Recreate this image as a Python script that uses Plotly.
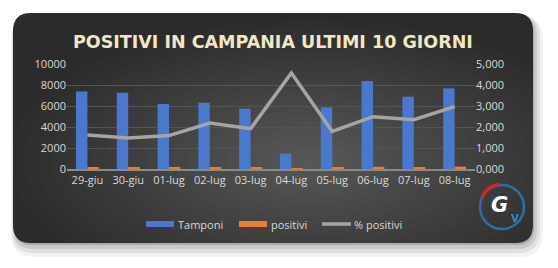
import plotly.graph_objects as go

giorni = ["29-giu", "30-giu", "01-lug", "02-lug", "03-lug", "04-lug", "05-lug", "06-lug", "07-lug", "08-lug"]
tamponi = [7390, 7270, 6190, 6310, 5740, 1460, 5870, 8380, 6890, 7680]
positivi = [120, 107, 98, 138, 110, 67, 105, 209, 162, 228]
pct_positivi = [1.62, 1.48, 1.59, 2.19, 1.92, 4.57, 1.79, 2.49, 2.35, 2.97]

left_ticks = [0, 2000, 4000, 6000, 8000, 10000]
right_ticks = [0, 1, 2, 3, 4, 5]

series_names = ["Tamponi", "positivi", "% positivi"]
series_colors = ["#4a78cc", "#ed7d31", "#a5a5a5"]

W, H = 558, 268
ML, MR, MT, MB = 67, 83, 64, 99
PW, PH = W - ML - MR, H - MT - MB


def px(x):
    return (x - ML) / PW


def py(y):
    return (H - MB - y) / PH


def rrect(x0, y0, x1, y1, r):
    pts = [
        ("M", px(x0 + r), py(y0)),
        ("L", px(x1 - r), py(y0)),
        ("Q", px(x1), py(y0), px(x1), py(y0 + r)),
        ("L", px(x1), py(y1 - r)),
        ("Q", px(x1), py(y1), px(x1 - r), py(y1)),
        ("L", px(x0 + r), py(y1)),
        ("Q", px(x0), py(y1), px(x0), py(y1 - r)),
        ("L", px(x0), py(y0 + r)),
        ("Q", px(x0), py(y0), px(x0 + r), py(y0)),
    ]
    s = ""
    for p in pts:
        s += p[0] + " " + " ".join(f"{v:.5f}" for v in p[1:]) + " "
    return s + "Z"


shapes = []
# shadow
for dx, dy, g, a in [(4, 8, 6, 0.05), (3, 6, 4, 0.07), (2, 4, 2, 0.10), (1, 2, 0, 0.16)]:
    shapes.append(dict(type="path", xref="paper", yref="paper", layer="below",
                       path=rrect(13 - g + dx, 13 - g + dy, 533 + g + dx, 243 + g + dy, 18 + g),
                       fillcolor=f"rgba(0,0,0,{a})", line=dict(width=0)))
# panel
shapes.append(dict(type="path", xref="paper", yref="paper", layer="below",
                   path=rrect(13, 13, 533, 243, 18), fillcolor="#2b2b2b", line=dict(width=0)))
# soft radial lightening
N = 22
for k in range(N):
    cx, cy = 310, 160
    f = 1 - k / N
    hw, hh = 300 * f, 140 * f
    shapes.append(dict(type="circle", xref="paper", yref="paper", layer="below",
                       x0=px(cx - hw), x1=px(cx + hw), y0=py(cy + hh), y1=py(cy - hh),
                       fillcolor="rgba(255,255,255,0.011)", line=dict(width=0)))

# logo
shapes.append(dict(type="circle", xref="paper", yref="paper", layer="above",
                   x0=px(480), x1=px(524), y0=py(185), y1=py(229),
                   line=dict(color="#2f6ea5", width=2.5)))
shapes.append(dict(type="path", xref="paper", yref="paper", layer="above",
                   path=f"M {px(482):.5f} {py(198):.5f} Q {px(486):.5f} {py(186):.5f} {px(500):.5f} {py(184):.5f}",
                   line=dict(color="#e02020", width=3)))

# custom legend swatches
leg_y = 224
leg_x = [146, 239, 322]
for i, x0 in enumerate(leg_x):
    if i < 2:
        shapes.append(dict(type="rect", xref="paper", yref="paper", layer="above",
                           x0=px(x0), x1=px(x0 + 28), y0=py(leg_y + 3), y1=py(leg_y - 3),
                           fillcolor=series_colors[i], line=dict(width=0)))
    else:
        shapes.append(dict(type="line", xref="paper", yref="paper", layer="above",
                           x0=px(x0), x1=px(x0 + 29), y0=py(leg_y), y1=py(leg_y),
                           line=dict(color=series_colors[i], width=3.5)))

fig = go.Figure()
fig.add_trace(go.Bar(x=giorni, y=tamponi, name=series_names[0],
                     marker=dict(color=series_colors[0], line=dict(width=0)), yaxis="y"))
fig.add_trace(go.Bar(x=giorni, y=positivi, name=series_names[1],
                     marker=dict(color=series_colors[1], line=dict(width=0)), yaxis="y"))
fig.add_trace(go.Scatter(x=giorni, y=pct_positivi, name=series_names[2], mode="lines",
                         line=dict(color=series_colors[2], width=3.5), yaxis="y2"))

tick_font = dict(family="Open Sans, sans-serif", size=11, color="#d9d9d9")

annotations = [
    dict(text="<b>POSITIVI IN CAMPANIA ULTIMI 10 GIORNI</b>", xref="paper", yref="paper",
         x=px(273), y=py(42), xanchor="center", yanchor="middle", showarrow=False,
         font=dict(family="DejaVu Sans, sans-serif", size=17.5, color="#f3e7c3")),
    dict(text="<b><i>G</i></b>", xref="paper", yref="paper", x=px(499), y=py(205),
         xanchor="center", yanchor="middle", showarrow=False,
         font=dict(family="DejaVu Sans", size=21, color="white")),
    dict(text="<b>V</b>", xref="paper", yref="paper", x=px(515), y=py(218),
         xanchor="center", yanchor="middle", showarrow=False,
         font=dict(family="DejaVu Sans", size=10, color="#3a86d0")),
]
for i, x0 in enumerate(leg_x):
    annotations.append(dict(text=series_names[i], xref="paper", yref="paper",
                            x=px(x0 + 30), y=py(leg_y), xanchor="left", yanchor="middle",
                            showarrow=False,
                            font=dict(family="Open Sans, sans-serif", size=11, color="#d9d9d9")))

fig.update_layout(
    width=W, height=H,
    margin=dict(l=ML, r=MR, t=MT, b=MB),
    paper_bgcolor="white",
    plot_bgcolor="rgba(0,0,0,0)",
    separators=",.",
    barmode="group",
    bargap=0.44,
    bargroupgap=0,
    shapes=shapes,
    showlegend=False,
    xaxis=dict(type="category", tickfont=tick_font, showgrid=False, ticks="",
               showline=True, linecolor="#8a8a8a", linewidth=1.5),
    yaxis=dict(range=[0, 10000], tickvals=left_ticks, tickformat="d", tickfont=tick_font,
               showgrid=True, gridcolor="#555555", gridwidth=1, zeroline=False, ticks="",
               showline=False),
    yaxis2=dict(range=[0, 5], tickvals=right_ticks, tickformat=".3f", tickfont=tick_font,
                overlaying="y", side="right", showgrid=False, zeroline=False, ticks="",
                showline=False),
    annotations=annotations,
)

fig.write_html("out.html")
